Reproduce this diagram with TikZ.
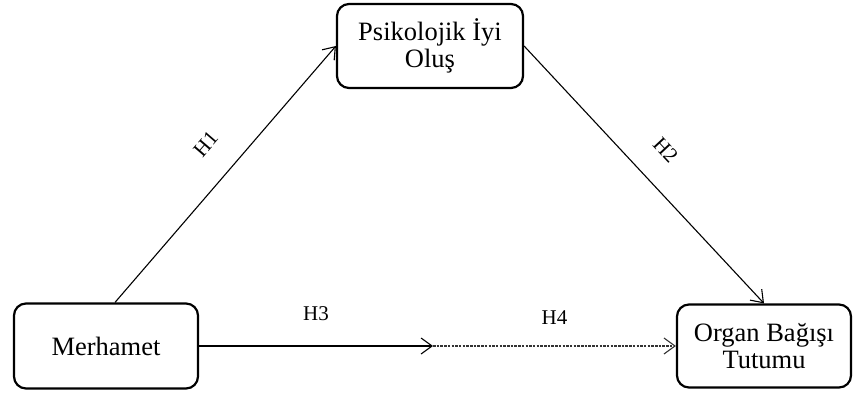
\documentclass[tikz,border=0pt]{standalone}
\usepackage{fontspec}
\setmainfont{Liberation Serif}
\usetikzlibrary{arrows.meta, positioning}

\begin{document}
\begin{tikzpicture}[x=1pt, y=-1pt,
  box/.style={rectangle, rounded corners=12pt, draw=black, line width=2.2pt, fill=white, align=center, font=\fontsize{26.5}{27}\selectfont},
  arr/.style={-{Straight Barb[length=11pt,width=16pt]}, line width=1.1pt},
  hyp/.style={font=\fontsize{21}{22}\selectfont}]
\useasboundingbox (0,0) rectangle (856,396);
% the three constructs
\node (psiko) [box, minimum width=186pt, minimum height=84pt] at (430,46) {Psikolojik İyi\\Oluş};
\node (merhamet) [box, minimum width=184pt, minimum height=85pt] at (106,346) {Merhamet};
\node (organ) [box, minimum width=174pt, minimum height=83pt] at (764,346) {Organ Bağışı\\Tutumu};
\coordinate (mid) at (433,346);

% hypotheses
\draw[arr] ([xshift=9pt]merhamet.north) -- (psiko.west) node[hyp, pos=.53, sloped, above=24pt] {H1};
\draw[arr] (psiko.east) -- (organ.north) node[hyp, pos=.49, sloped, above=22pt] {H2};
\draw[arr] (merhamet.east) -- (mid) node[hyp, midway, above=21pt] {H3};
\draw[arr, black!80, dash pattern=on 2.5pt off 1.2pt] (mid) -- (organ.west |- mid) node[hyp, black, midway, above=18pt] {H4};
\end{tikzpicture}
\end{document}
